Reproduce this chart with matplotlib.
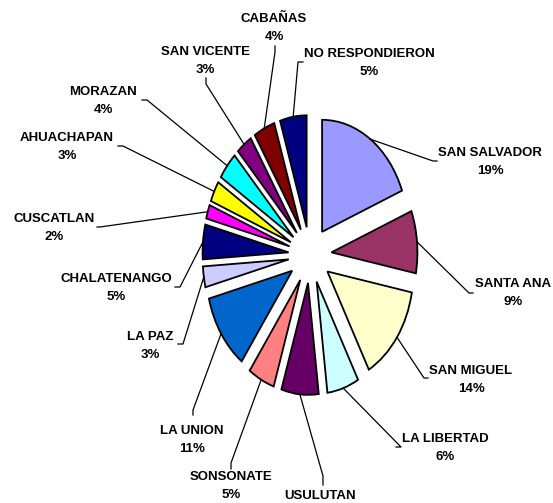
import numpy as np
import matplotlib
matplotlib.use("Agg")
import matplotlib.pyplot as plt

names = ["SAN SALVADOR", "SANTA ANA", "SAN MIGUEL", "LA LIBERTAD", "USULUTAN",
         "SONSONATE", "LA UNION", "LA PAZ", "CHALATENANGO", "CUSCATLAN",
         "AHUACHAPAN", "MORAZAN", "SAN VICENTE", "CABAÑAS", "NO RESPONDIERON"]
pct = [19, 9, 14, 6, 7, 5, 11, 3, 5, 2, 3, 4, 3, 4, 5]
colors = ["#9999FF", "#993366", "#FFFFCC", "#CCFFFF", "#660066",
          "#FF8080", "#0066CC", "#CCCCFF", "#000080", "#FF00FF",
          "#FFFF00", "#00FFFF", "#800080", "#800000", "#000080"]
# the reference crops the percentage of USULUTAN at the bottom edge
show_pct = [True, True, True, True, False, True, True, True, True, True,
            True, True, True, True, True]

# label layout in pixels: text block centre, elbow point, tick end
text_px = [(490, 162), (513, 293), (471, 380), (445, 448), (320, 496),
           (231, 486), (192, 440), (150, 346), (116, 288), (54, 228),
           (67, 147), (103, 101), (205, 61), (274, 28), (369, 63)]
elbow_px = [(433, 161), (469, 293), (424, 378), (401, 447), (323, 476),
            (231, 463), (193, 410), (183, 344), (180, 287), (100, 227),
            (123, 146), (147, 100), (206, 84), (275, 52), (298, 62)]
tick_px = [(437, 161), (473, 293), (428, 378), (396, 447), (323, 485),
           (231, 469), (193, 415), (178, 344), (175, 287), (97, 227),
           (118, 146), (142, 100), (206, 78), (275, 46), (303, 62)]

W, H = 553, 503
cx, cy, rx, ry = 310, 255, 86, 112


def px(p):
    return ((p[0] - cx) / rx, (cy - p[1]) / ry)


plt.rcParams["font.family"] = ["Liberation Sans", "DejaVu Sans"]

fig = plt.figure(figsize=(W / 100, H / 100), dpi=100)
ax = fig.add_axes([0, 0, 1, 1])
wedges, _ = ax.pie(pct, colors=colors, startangle=90, counterclock=False,
                   explode=[0.25] * len(pct), radius=1,
                   wedgeprops=dict(edgecolor="black", linewidth=1.3))
ax.set_aspect("auto")
ax.set_xlim(-cx / rx, (W - cx) / rx)
ax.set_ylim(-(H - cy) / ry, cy / ry)
ax.axis("off")

for i, w in enumerate(wedges):
    ang = np.deg2rad((w.theta1 + w.theta2) / 2)
    sx = w.center[0] + w.r * np.cos(ang)
    sy = w.center[1] + w.r * np.sin(ang)
    ex, ey = px(elbow_px[i])
    kx, ky = px(tick_px[i])
    ax.plot([sx, ex, kx], [sy, ey, ky], color="black", lw=0.9)
    label = f"{names[i]}\n{pct[i]}%" if show_pct[i] else names[i]
    tx, ty = px(text_px[i])
    ax.text(tx, ty, label, ha="center", va="center",
            fontsize=9.5, fontweight="bold", linespacing=1.6)

fig.savefig("out.png", dpi=100)
